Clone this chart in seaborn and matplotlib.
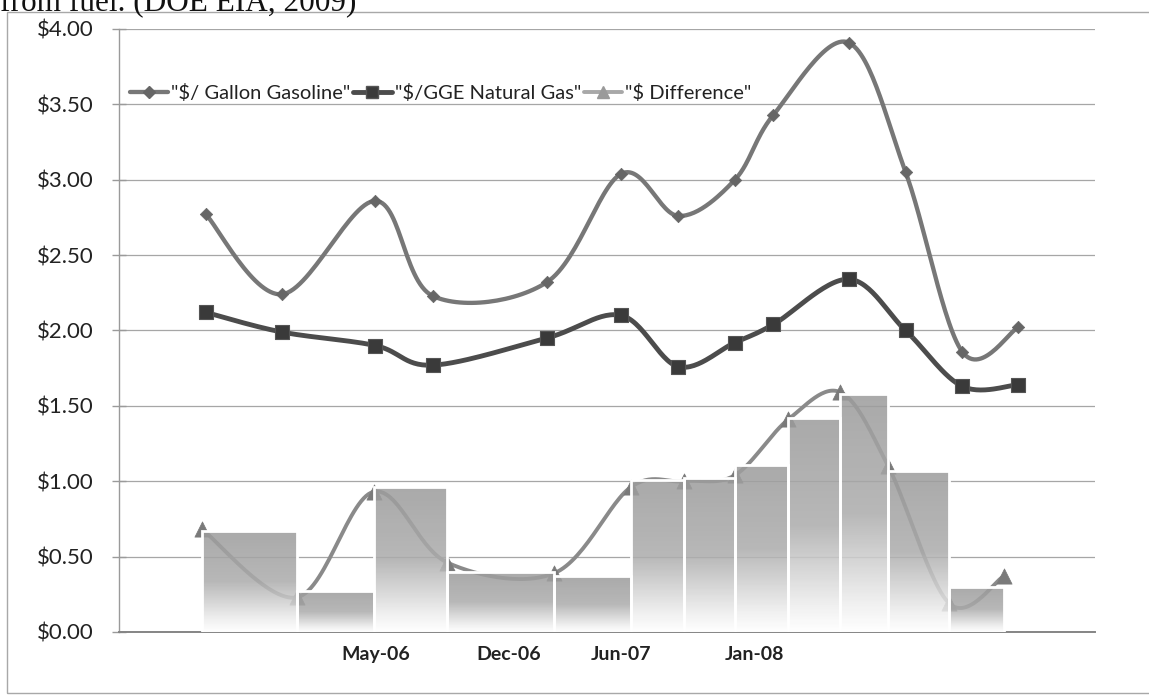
import numpy as np
import pandas as pd
import matplotlib
matplotlib.use("Agg")
import matplotlib.pyplot as plt
import matplotlib.dates as mdates
from matplotlib.patches import Rectangle
from matplotlib.lines import Line2D
from matplotlib.colors import LinearSegmentedColormap
import seaborn as sns

# ---- data -------------------------------------------------------------
price_dates = ["2005-08-01", "2005-12-01", "2006-05-01", "2006-08-01",
               "2007-02-01", "2007-06-01", "2007-09-01", "2007-12-01",
               "2008-02-01", "2008-06-01", "2008-09-01", "2008-12-01",
               "2009-03-01"]
gasoline = [2.77, 2.24, 2.86, 2.23, 2.32, 3.04, 2.76, 3.00, 3.43, 3.91,
            3.05, 1.86, 2.02]
natural_gas = [2.12, 1.99, 1.90, 1.77, 1.95, 2.10, 1.76, 1.92, 2.04, 2.34,
               2.00, 1.63, 1.64]

diff_dates = ["2005-07-26", "2005-12-26", "2006-04-28", "2006-08-25",
              "2007-02-13", "2007-06-16", "2007-09-10", "2007-12-01",
              "2008-02-25", "2008-05-19", "2008-08-04", "2008-11-10",
              "2009-02-06"]
difference = [0.68, 0.23, 0.93, 0.46, 0.39, 0.96, 1.00, 1.04, 1.41, 1.59,
              1.10, 0.19, 0.37]
difference_blocks = [0.67, 0.27, 0.96, 0.40, 0.37, 1.01, 1.02, 1.11, 1.42,
                     1.58, 1.07, 0.30]

tick_dates = ["2006-05-01", "2006-12-01", "2007-06-01", "2008-01-01"]
tick_labels = ["May-06", "Dec-06", "Jun-07", "Jan-08"]
y_ticks = [0.0, 0.5, 1.0, 1.5, 2.0, 2.5, 3.0, 3.5, 4.0]
y_labels = ["\\$%.2f" % v for v in y_ticks]
series_labels = ['"$/ Gallon Gasoline"', '"$/GGE Natural Gas"',
                 '"$ Difference"']
x_range = ["2005-03-14", "2009-07-03"]

# ---- style ------------------------------------------------------------
sns.set_theme(style="white")
plt.rcParams["font.family"] = ["Lato", "DejaVu Sans"]

GAS_COLOR = "#777777"
GAS_MARK = "#666666"
NG_COLOR = "#4c4c4c"
NG_MARK = "#3a3a3a"
DIFF_COLOR = "#8a8a8a"
DIFF_MARK = "#7a7a7a"


def to_num(dates):
    return mdates.date2num(pd.to_datetime(dates))


def smooth_path(xs, ys, n=30):
    """Bezier curve through the points, as in a smoothed office-chart line."""
    x = np.asarray(xs, float)
    y = np.asarray(ys, float)
    px = np.concatenate([[x[0]], x, [x[-1]]])
    py = np.concatenate([[y[0]], y, [y[-1]]])
    t = np.linspace(0, 1, n, endpoint=False)[:, None]
    out = []
    for i in range(1, len(px) - 2):
        p0 = np.array([px[i - 1], py[i - 1]])
        p1 = np.array([px[i], py[i]])
        p2 = np.array([px[i + 1], py[i + 1]])
        p3 = np.array([px[i + 2], py[i + 2]])
        c1 = p1 + (p2 - p0) / 6.0
        c2 = p2 - (p3 - p1) / 6.0
        seg = ((1 - t) ** 3) * p1 + 3 * ((1 - t) ** 2) * t * c1 \
            + 3 * (1 - t) * t ** 2 * c2 + t ** 3 * p2
        out.append(seg)
    out.append(np.array([[x[-1], y[-1]]]))
    pts = np.vstack(out)
    return pts[:, 0], pts[:, 1]


W, H = 1149, 698
fig = plt.figure(figsize=(W / 100, H / 100), dpi=100)
ax = fig.add_axes([119 / W, 1 - 632 / H, (1095 - 119) / W, (632 - 29) / H])

px = to_num(price_dates)
dx = to_num(diff_dates)

# difference line (sits under the shaded blocks)
sx, sy = smooth_path(dx, difference)
sns.lineplot(x=sx, y=sy, sort=False, estimator=None, ax=ax,
             color=DIFF_COLOR, lw=2.8, zorder=2)
sns.scatterplot(x=dx, y=difference, marker="^", s=120, color=DIFF_MARK,
                edgecolor=DIFF_MARK, linewidth=0.5, ax=ax, zorder=2.1)

# shaded difference blocks with a vertical fade
fade = LinearSegmentedColormap.from_list(
    "fade", [(0.0, "#ffffff"), (0.12, "#eeeeee"), (0.5, "#acacac"),
             (1.0, "#9c9c9c")])
grad = np.linspace(0, 1, 200)[:, None]
lefts = dx[:-1]
widths = np.diff(dx)
bars = ax.bar(lefts, difference_blocks, width=widths, align="edge",
              color="none", edgecolor="white", linewidth=2.0, zorder=3.5)
for rect, x0, w, h in zip(bars.patches, lefts, widths, difference_blocks):
    im = ax.imshow(grad, cmap=fade, origin="lower", aspect="auto",
                   extent=[x0, x0 + w, 0, h], alpha=0.86, zorder=3,
                   interpolation="bilinear")
    im.set_clip_path(rect)

# natural gas and gasoline smoothed lines
sx, sy = smooth_path(px, natural_gas)
sns.lineplot(x=sx, y=sy, sort=False, estimator=None, ax=ax,
             color=NG_COLOR, lw=3.5, zorder=4)
sns.scatterplot(x=px, y=natural_gas, marker="s", s=100, color=NG_MARK,
                edgecolor="#555555", linewidth=0.8, ax=ax, zorder=4.1)

sx, sy = smooth_path(px, gasoline)
sns.lineplot(x=sx, y=sy, sort=False, estimator=None, ax=ax,
             color=GAS_COLOR, lw=3.1, zorder=5)
sns.scatterplot(x=px, y=gasoline, marker="D", s=40, color=GAS_MARK,
                edgecolor=GAS_MARK, linewidth=0.5, ax=ax, zorder=5.1)

# axes
ax.set_xlim(to_num(x_range))
ax.set_ylim(0, 4)
ax.set_yticks(y_ticks)
ax.set_yticklabels(y_labels)
ax.set_xticks(to_num(tick_dates))
ax.set_xticklabels(tick_labels)
ax.set_xlabel("")
ax.set_ylabel("")
ax.grid(axis="y", color="#a6a6a6", lw=0.9, zorder=0.5)
ax.grid(axis="x", visible=False)
ax.set_axisbelow(True)
for side in ("top", "right"):
    ax.spines[side].set_visible(False)
ax.spines["left"].set_color("#9a9a9a")
ax.spines["left"].set_linewidth(1.0)
ax.spines["bottom"].set_color("#858585")
ax.spines["bottom"].set_linewidth(1.4)
ax.tick_params(axis="y", direction="inout", length=10, width=1,
               color="#9a9a9a", labelsize=16, pad=13, labelcolor="#222222",
               left=True)
ax.tick_params(axis="x", length=0, pad=10, labelsize=14,
               labelcolor="#222222")
for lab in ax.get_xticklabels():
    lab.set_fontweight("bold")

handles = [
    Line2D([], [], color=GAS_COLOR, lw=3.1, marker="D", markersize=6,
           mfc=GAS_MARK, mec=GAS_MARK),
    Line2D([], [], color=NG_COLOR, lw=3.5, marker="s", markersize=9,
           mfc=NG_MARK, mec="#555555"),
    Line2D([], [], color="#a8a8a8", lw=2.8, marker="^", markersize=9,
           mfc="#9a9a9a", mec="#9a9a9a"),
]
ax.legend(handles, series_labels, ncol=3, frameon=False, loc="center left",
          bbox_to_anchor=(0.011, 0.894), handlelength=1.9,
          handletextpad=0.15, columnspacing=0.15, borderpad=0,
          borderaxespad=0, fontsize=14.5, labelcolor="#222222")

# chart frame and the caption line above it
fig.patches.append(Rectangle((7 / W, 1 - 693 / H), 1.2, (693 - 12) / H,
                             transform=fig.transFigure, fill=False,
                             edgecolor="#a8a8a8", lw=1.0))
fig.text(0.0, 1 - 10 / H, "from fuel. (DOE EIA, 2009)",
         family="Liberation Serif", fontsize=22.5, va="baseline", ha="left",
         color="#111111")

fig.savefig("out.png", dpi=100)
